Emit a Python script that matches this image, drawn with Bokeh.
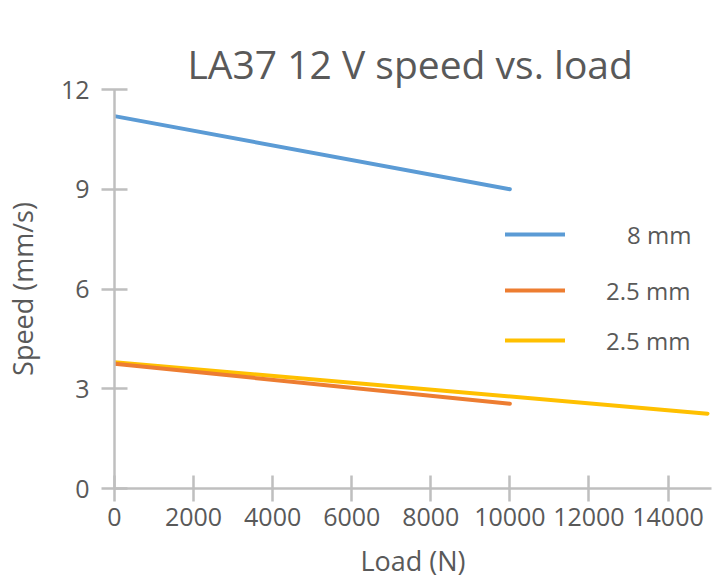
from bokeh.plotting import figure
from bokeh.models import Range1d, FixedTicker, Legend, LegendItem
from bokeh.embed import file_html
from bokeh.resources import INLINE

# ---- data ----
load_8mm = [0, 10000]
speed_8mm = [11.2, 9.0]
load_25mm_a = [0, 10000]
speed_25mm_a = [3.75, 2.55]
load_25mm_b = [0, 15000]
speed_25mm_b = [3.8, 2.25]
series_labels = ["8 mm", "2.5 mm", "2.5 mm"]
x_ticks = [0, 2000, 4000, 6000, 8000, 10000, 12000, 14000]
y_ticks = [0, 3, 6, 9, 12]
title_text = "LA37 12 V speed vs. load"

FONT = "Open Sans"
GREY_TXT = "#595959"
GREY_AX = "#BFBFBF"

p = figure(width=712, height=581, output_backend="svg", toolbar_location=None,
           x_range=Range1d(0, 15100), y_range=Range1d(0, 12),
           min_border_left=112, min_border_right=1, min_border_top=89,
           min_border_bottom=93)
p.background_fill_color = None
p.border_fill_color = "white"
p.outline_line_color = None
p.xgrid.visible = False
p.ygrid.visible = False

xa = p.below[0]
ya = p.left[0]

p.title.text = title_text
p.title.text_font = FONT
p.title.text_font_size = "39px"
p.title.text_font_style = "normal"
p.title.text_color = GREY_TXT
p.title.align = "left"
p.title.offset = 73
p.title.standoff = 0

for ax in (xa, ya):
    ax.axis_line_color = GREY_AX
    ax.axis_line_width = 2.5
    ax.major_tick_line_color = GREY_AX
    ax.major_tick_line_width = 2.5
    ax.major_tick_in = 13
    ax.major_tick_out = 13
    ax.minor_tick_line_color = None
    ax.major_label_text_font = FONT
    ax.major_label_text_font_size = "25px"
    ax.major_label_text_color = GREY_TXT
    ax.axis_label_text_font = FONT
    ax.axis_label_text_font_size = "27px"
    ax.axis_label_text_font_style = "normal"
    ax.axis_label_text_color = GREY_TXT

xa.ticker = FixedTicker(ticks=x_ticks)
ya.ticker = FixedTicker(ticks=y_ticks)
xa.axis_label = "Load (N)"
ya.axis_label = "Speed (mm/s)"
xa.major_label_standoff = 6
ya.major_label_standoff = 12
xa.axis_label_standoff = 13
ya.axis_label_standoff = 17

r_y = p.line(load_25mm_b, speed_25mm_b, line_color="#FFC000", line_width=4, line_cap="round")
r_o = p.line(load_25mm_a, speed_25mm_a, line_color="#ED7D31", line_width=4, line_cap="round")
r_b = p.line(load_8mm, speed_8mm, line_color="#5B9BD5", line_width=4, line_cap="round")


def style_legend(lg, standoff):
    lg.background_fill_color = None
    lg.border_line_color = None
    lg.margin = 0
    lg.padding = 0
    lg.glyph_width = 60
    lg.glyph_height = 34
    lg.spacing = 16
    lg.label_standoff = standoff
    lg.label_text_font = FONT
    lg.label_text_font_size = "24px"
    lg.label_text_color = GREY_TXT


legend_a = Legend(items=[LegendItem(label=series_labels[0], renderers=[r_b])],
                  location=(391, 237))
style_legend(legend_a, 62)
legend_b = Legend(items=[LegendItem(label=series_labels[1], renderers=[r_o]),
                         LegendItem(label=series_labels[2], renderers=[r_y])],
                  location=(391, 131))
style_legend(legend_b, 41)
p.add_layout(legend_a, "center")
p.add_layout(legend_b, "center")

open("out.html", "w").write(file_html(p, INLINE))
